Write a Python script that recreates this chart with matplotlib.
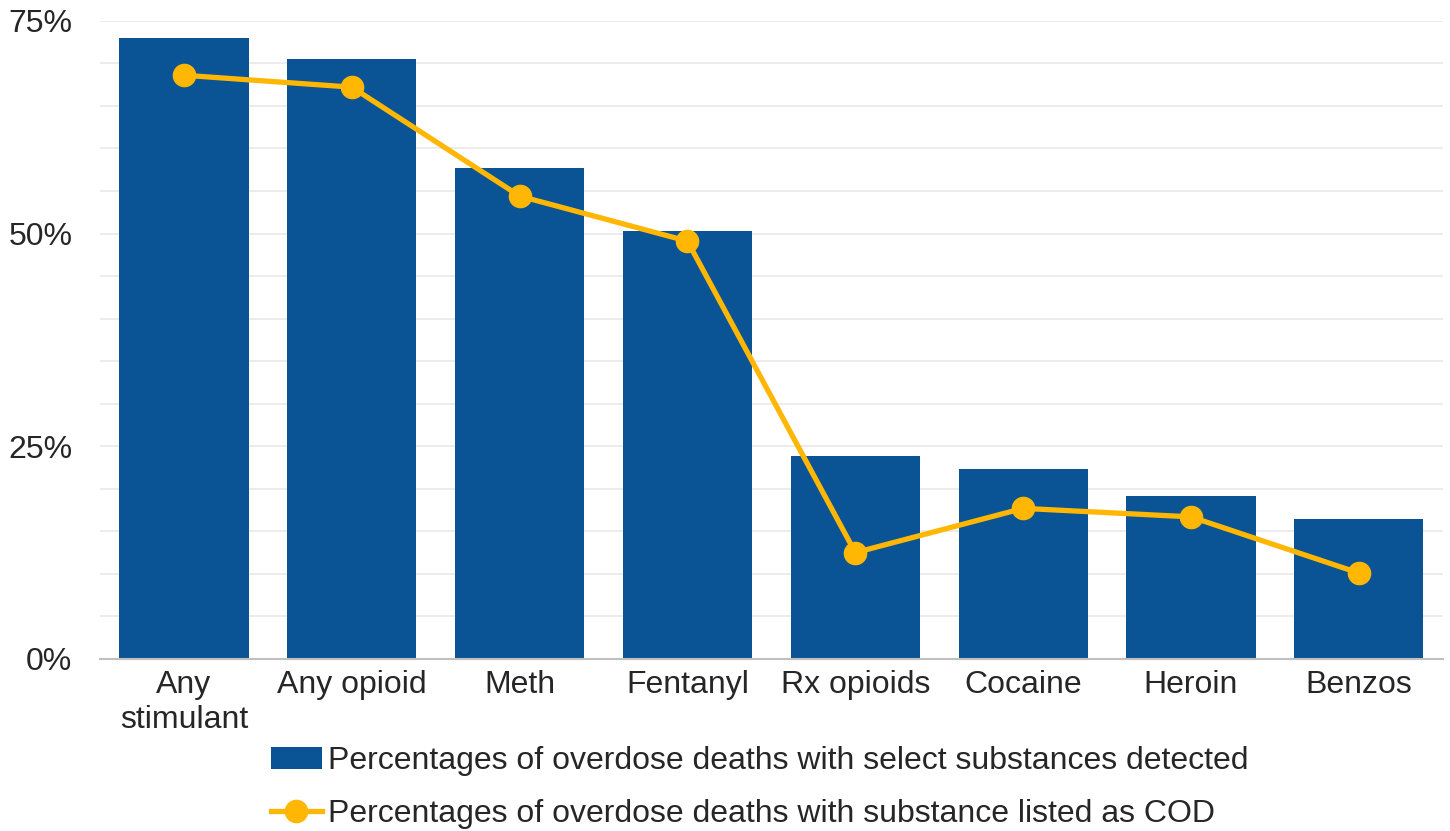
import matplotlib
matplotlib.use("Agg")
import matplotlib.pyplot as plt
from matplotlib.ticker import FuncFormatter, MultipleLocator

# values (percent)
categories = ["Any\nstimulant", "Any opioid", "Meth", "Fentanyl", "Rx opioids", "Cocaine", "Heroin", "Benzos"]
detected = [73.0, 70.5, 57.7, 50.3, 23.9, 22.3, 19.2, 16.5]
cod = [68.6, 67.2, 54.4, 49.1, 12.5, 17.7, 16.7, 10.1]

plt.rcParams['font.family'] = ['Liberation Sans', 'DejaVu Sans']

fig = plt.figure(figsize=(14.5, 8.31), dpi=100)
ax = fig.add_axes([0.069, 0.207, 0.926, 0.768])

x = range(len(categories))
bars = ax.bar(x, detected, width=0.77, color="#0A5394", zorder=2,
              label="Percentages of overdose deaths with select substances detected")
line, = ax.plot(x, cod, color="#FFB703", lw=3.8, marker="o", markersize=16, zorder=3,
                label="Percentages of overdose deaths with substance listed as COD")

ax.set_xlim(-0.5, len(categories) - 0.5)
ax.set_ylim(0, 75)
ax.yaxis.set_major_locator(MultipleLocator(25))
ax.yaxis.set_minor_locator(MultipleLocator(5))
ax.yaxis.set_major_formatter(FuncFormatter(lambda v, p: "%d%%" % v))
ax.grid(axis="y", which="both", color="#ebebeb", lw=1.3, zorder=0)
ax.set_xticks(list(x))
ax.set_xticklabels(categories, fontsize=23, color="#262626")
ax.tick_params(axis="y", labelsize=23, labelcolor="#262626", length=0, which="both", pad=20)
ax.tick_params(axis="x", length=0, pad=8)
for s in ["top", "right", "left"]:
    ax.spines[s].set_visible(False)
ax.spines["bottom"].set_color("#bfbfbf")
ax.spines["bottom"].set_linewidth(1.5)
ax.spines["bottom"].set_zorder(4)

fig.legend([bars, line], [bars.get_label(), line.get_label()],
           loc="center", bbox_to_anchor=(0.524, 0.052), frameon=False, fontsize=23,
           handlelength=1.6, handletextpad=0.2, labelspacing=0.72, labelcolor="#262626")

fig.savefig("out.png", dpi=100)
